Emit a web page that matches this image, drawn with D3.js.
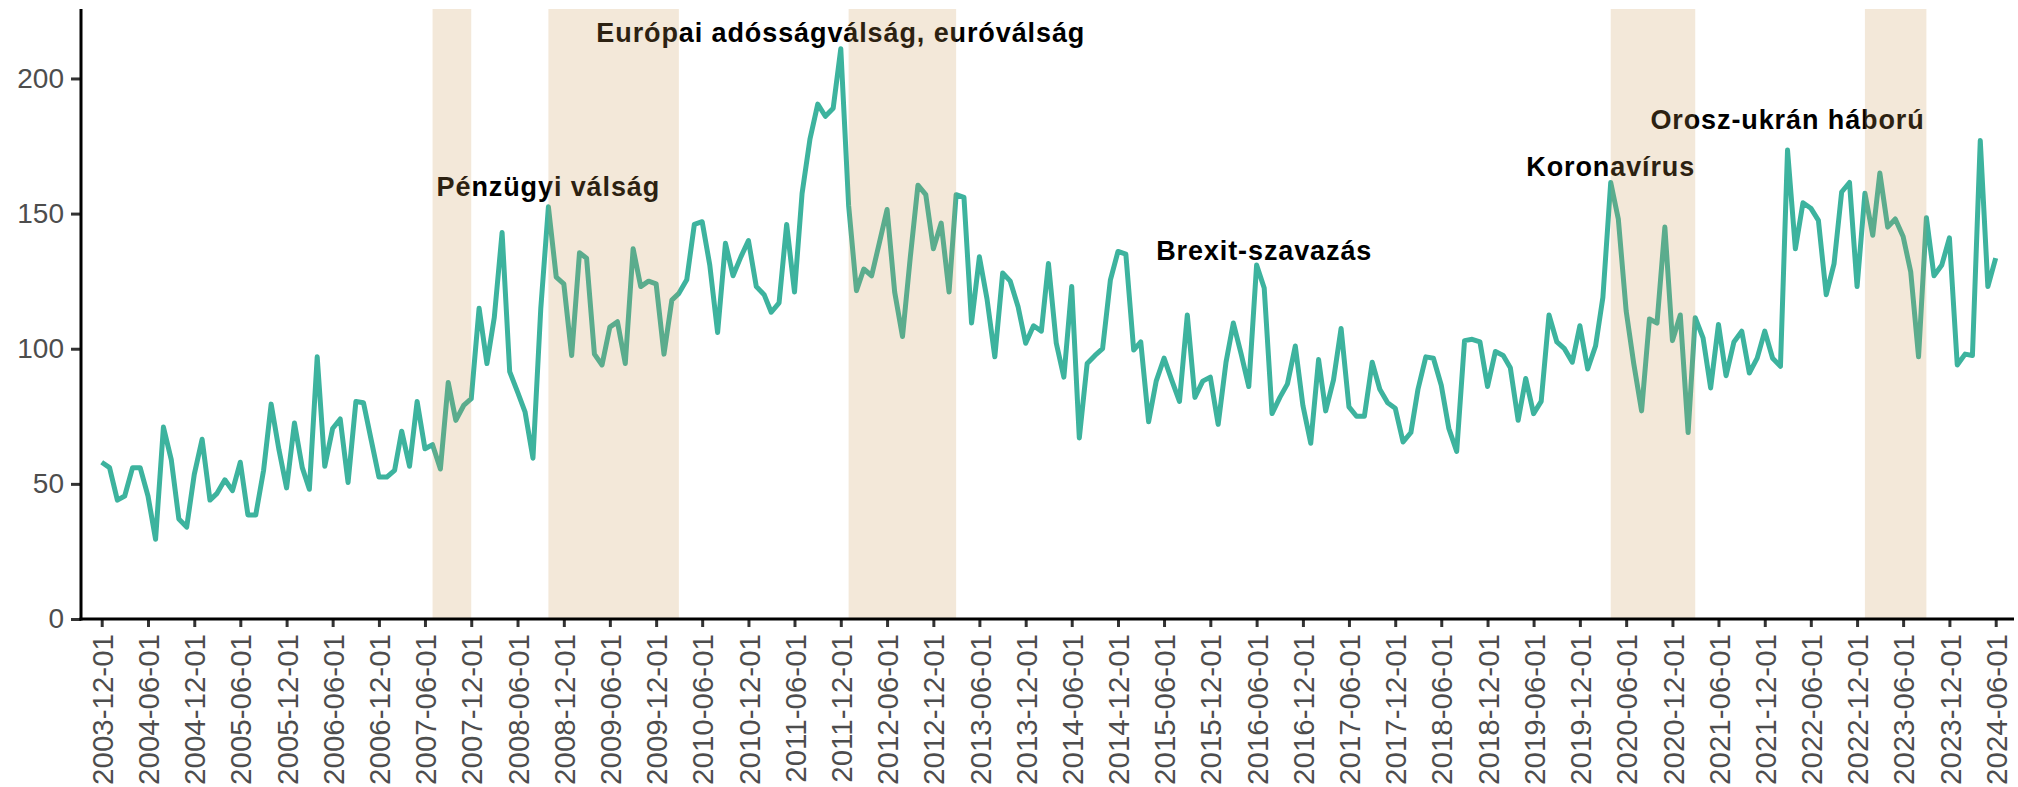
<!DOCTYPE html>
<html>
<head>
<meta charset="utf-8">
<script src="https://cdn.jsdelivr.net/npm/d3@7"></script>
<style>
body { margin: 0; background: #fff; }
</style>
</head>
<body>
<script>
//monthly index, first and last month of the series
var startMonth = "2003-12-01",
    endMonth = "2024-06-01";

//values, one per month
var values = [
    58, 56, 44, 45.5, 56, 56, 45.5, 29.5, 71, 59,
    37, 34, 53.5, 66.5, 44, 46.5, 51.5, 47.5, 58, 38.5,
    38.5, 55, 79.5, 62.5, 48.5, 72.5, 56, 48, 97, 56.5,
    70.5, 74, 50.5, 80.5, 80, 66,
    52.5, 52.5, 55, 69.5, 56.5, 80.5, 63, 64.5, 55.5, 87.5,
    73.5, 79, 81.5, 115, 94.5, 111.5, 143, 91.5, 84, 76.5,
    59.5, 115, 152.5, 126.5, 124, 97.5, 135.5, 133.5, 98, 94,
    108, 110, 94.5, 137, 123,
    125, 124, 98, 118, 120.5, 125.5, 146, 147, 131, 106,
    139, 127, 134, 140, 123, 120, 113.5, 117, 146, 121,
    157.5, 177.5, 190.5, 186, 189, 211, 153, 121.5, 129.5, 127,
    139, 151.5, 121, 104.5, 134, 160.5,
    157, 137, 146.5, 121, 157, 156, 109.5, 134, 118.5, 97,
    128, 125, 115.5, 102, 108.5, 106.5, 131.5, 102, 89.5, 123,
    67, 94.5, 97.5, 100, 125.5, 136, 135, 99.5, 102.5, 73,
    88, 96.5, 88.5, 80.5, 112.5,
    82, 88, 89.5, 72, 95, 109.5, 98, 86, 131, 122.5,
    76, 82, 87, 101, 79, 65, 96, 77, 88.5, 107.5,
    78.5, 75, 75, 95, 85, 80, 78, 65.5, 69, 85,
    97, 96.5, 86.5, 70.5, 62, 103,
    103.5, 102.5, 86, 99, 97.5, 93, 73.5, 89, 76, 80.5,
    112.5, 102.5, 100, 95, 108.5, 92.5, 101, 119, 161.5, 148,
    114, 94.5, 77, 111, 109.5, 145, 103, 112.5, 69, 111.5,
    104, 85.5, 109, 90, 102.5, 106.5,
    91, 96.5, 106.5, 96.5, 93.5, 173.5, 137, 154, 152, 147.5,
    120, 131.5, 158, 161.5, 123, 157.5, 142, 165, 145, 148,
    141.5, 128.5, 97, 148.5, 127, 131, 141, 94, 98, 97.5,
    177, 123, 133.5
];

//crisis periods (shaded)
var shadeStarts = ["2007-07-01", "2008-10-01", "2012-01-01", "2020-04-01", "2023-01-01"],
    shadeEnds = ["2007-12-01", "2010-03-01", "2013-03-01", "2021-03-01", "2023-09-01"];

//event labels
var labelTexts = ["Pénzügyi válság", "Európai adósságválság, euróválság", "Brexit-szavazás", "Koronavírus", "Orosz-ukrán háború"],
    labelDates = ["2008-10-01", "2011-12-01", "2016-07-01", "2020-04-01", "2022-03-01"],
    labelValues = [160, 217, 136.5, 167.4, 184.8];

var yTicks = [0, 50, 100, 150, 200];

drawChart();

function drawChart() {
    var width = 2018,
        height = 787;

    var parse = d3.utcParse("%Y-%m-%d"),
        fmt = d3.utcFormat("%Y-%m-%d");

    var start = parse(startMonth),
        end = parse(endMonth);

    var dates = values.map(function(d, i) {
        return d3.utcMonth.offset(start, i);
    });

    var x = d3.scaleUtc()
        .domain([start, end])
        .range([101.7, 1995.7]);

    var y = d3.scaleLinear()
        .domain([0, 225.7])
        .range([619, 9]);

    var svg = d3.select("body")
        .append("svg")
        .attr("width", width)
        .attr("height", height)
        .style("font-family", "'Liberation Sans', Arial, sans-serif");

    //the series
    var line = d3.line()
        .x(function(d, i) { return x(dates[i]); })
        .y(function(d) { return y(d); });

    svg.append("path")
        .datum(values)
        .attr("fill", "none")
        .attr("stroke", "#3db39e")
        .attr("stroke-width", 5)
        .attr("stroke-linejoin", "round")
        .attr("d", line);

    //event labels, drawn under the shading so they tint like the line does
    svg.selectAll(".event")
        .data(labelTexts)
        .enter()
        .append("text")
        .attr("class", "event")
        .attr("x", function(d, i) { return x(parse(labelDates[i])); })
        .attr("y", function(d, i) { return y(labelValues[i]); })
        .attr("dy", "0.36em")
        .attr("text-anchor", "middle")
        .attr("font-size", 27)
        .attr("font-weight", "bold")
        .attr("letter-spacing", "0.9px")
        .attr("fill", "#000")
        .text(function(d) { return d; });

    //shaded periods on top
    svg.selectAll(".shade")
        .data(shadeStarts)
        .enter()
        .append("rect")
        .attr("class", "shade")
        .attr("x", function(d) { return x(parse(d)); })
        .attr("width", function(d, i) { return x(parse(shadeEnds[i])) - x(parse(d)); })
        .attr("y", y.range()[1])
        .attr("height", y(0) - y.range()[1])
        .attr("fill", "rgb(200,150,80)")
        .attr("fill-opacity", 0.22);

    //x axis, a tick every six months
    var xTickVals = d3.utcMonths(start, d3.utcMonth.offset(end, 1), 6);

    var xAxis = svg.append("g")
        .attr("transform", "translate(0," + y(0) + ")")
        .call(d3.axisBottom(x)
            .tickValues(xTickVals)
            .tickFormat(fmt)
            .tickSize(8)
            .tickSizeOuter(0));

    xAxis.select(".domain").remove();
    xAxis.selectAll(".tick line")
        .attr("stroke", "#333")
        .attr("stroke-width", 3);
    xAxis.selectAll(".tick text")
        .attr("transform", "rotate(-90)")
        .attr("text-anchor", "end")
        .attr("x", -15)
        .attr("y", 0)
        .attr("dy", "0.36em")
        .attr("font-size", 29.5)
        .attr("font-family", "'Liberation Sans', Arial, sans-serif")
        .attr("fill", "#4d4d4d");

    //y axis
    var yAxis = svg.append("g")
        .attr("transform", "translate(81,0)")
        .call(d3.axisLeft(y)
            .tickValues(yTicks)
            .tickSize(10)
            .tickPadding(7)
            .tickSizeOuter(0));

    yAxis.select(".domain").remove();
    yAxis.selectAll(".tick line")
        .attr("stroke", "#333")
        .attr("stroke-width", 3);
    yAxis.selectAll(".tick text")
        .attr("font-size", 28)
        .attr("font-family", "'Liberation Sans', Arial, sans-serif")
        .attr("fill", "#4d4d4d");

    //axis lines
    svg.append("line")
        .attr("x1", 81).attr("x2", 81)
        .attr("y1", y.range()[1]).attr("y2", y(0) + 1.5)
        .attr("stroke", "#000")
        .attr("stroke-width", 3);

    svg.append("line")
        .attr("x1", 79.5).attr("x2", 2014)
        .attr("y1", y(0)).attr("y2", y(0))
        .attr("stroke", "#000")
        .attr("stroke-width", 3);
}
</script>
</body>
</html>
